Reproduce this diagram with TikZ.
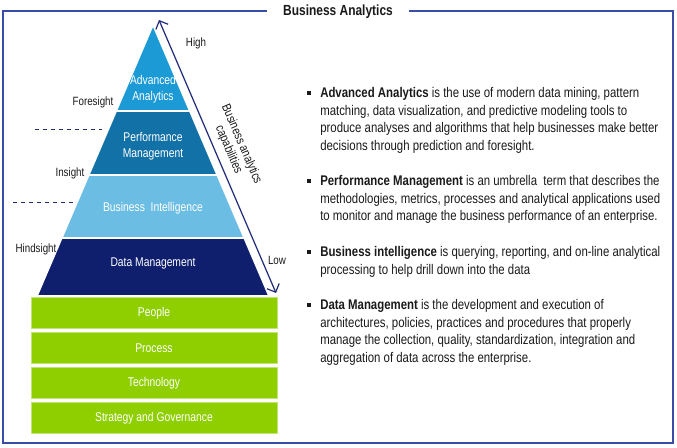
\documentclass[tikz,border=0pt]{standalone}
\usepackage{fontspec}
\newfontfamily\narrowfont[FakeStretch=0.815]{Liberation Sans}
\usepackage{xcolor}
\usetikzlibrary{arrows.meta,positioning,calc}
\definecolor{frameblue}{HTML}{3A4DA6}
\definecolor{aablue}{HTML}{1C9AD6}
\definecolor{pmblue}{HTML}{1271A6}
\definecolor{biblue}{HTML}{6CBDE4}
\definecolor{dmblue}{HTML}{0F1F6E}
\definecolor{basegreen}{HTML}{8FCF00}
\definecolor{arrownavy}{HTML}{1F2A78}
\definecolor{bodytext}{HTML}{1A1A1A}

\begin{document}
\begin{tikzpicture}[
    x=0.75pt, y=-0.75pt,
    every node/.style={font=\narrowfont, text=bodytext},
    layer/.style={draw=white, line width=1.2pt},
    layertext/.style={text=white, align=center, font=\narrowfont\fontsize{9.5}{12}\selectfont},
    basebar/.style={fill=basegreen, draw=basegreen!55!white, line width=0.6pt,
        minimum width=184.5pt, minimum height=23.25pt, inner sep=0pt,
        text=white, font=\narrowfont\fontsize{9.5}{12}\selectfont},
    sidelabel/.style={font=\narrowfont\fontsize{9}{11}\selectfont},
    level/.style={draw=arrownavy, dashed, line width=0.6pt},
    para/.style={anchor=north west, inner sep=0pt, align=left,
        font=\narrowfont\fontsize{10.5}{13.1}\selectfont},
    bullet/.style={fill=bodytext, minimum size=2.3pt, inner sep=0pt}
]
    \useasboundingbox (0,0) rectangle (677,448);

    % Frame and title
    \draw[frameblue, line width=1.1pt] (3,11) rectangle (673,443);
    \node[fill=white, inner xsep=12pt, inner ysep=2pt,
        font=\narrowfont\bfseries\fontsize{11}{13}\selectfont] (title) at (338,12) {Business Analytics};

    % Pyramid
    \coordinate (apex) at (153,25);
    \coordinate (aa-l) at (116.2,111); \coordinate (aa-r) at (189.8,111);
    \coordinate (pm-l) at (88.8,175);  \coordinate (pm-r) at (217.2,175);
    \coordinate (bi-l) at (61.8,238);  \coordinate (bi-r) at (244.2,238);
    \coordinate (dm-l) at (37,296);    \coordinate (dm-r) at (269,296);

    \filldraw[layer, fill=aablue] (apex) -- (aa-r) -- (aa-l) -- cycle;
    \filldraw[layer, fill=pmblue] (aa-l) -- (aa-r) -- (pm-r) -- (pm-l) -- cycle;
    \filldraw[layer, fill=biblue] (pm-l) -- (pm-r) -- (bi-r) -- (bi-l) -- cycle;
    \filldraw[layer, fill=dmblue] (bi-l) -- (bi-r) -- (dm-r) -- (dm-l) -- cycle;

    \node[layertext] (aa) at (153,89) {Advanced\\Analytics};
    \node[layertext] (pm) at (153,146) {Performance\\Management};
    \node[layertext] (bi) at (153,208) {Business\ \ Intelligence};
    \node[layertext] (dm) at (153,263) {Data Management};

    % Foundation bars
    \node[basebar] (people) at (154,313) {People};
    \node[basebar] (process) at (154,348) {Process};
    \node[basebar] (technology) at (154,383) {Technology};
    \node[basebar] (strategy) at (154,418) {Strategy and Governance};

    % Capability arrow
    \coordinate (high-end) at (159,20);
    \coordinate (low-end) at (276,293);
    \draw[arrownavy, line width=0.9pt, {Straight Barb[length=5pt]}-{Straight Barb[length=5pt]}] (high-end) -- (low-end);
    \node[sidelabel] (high) at (196,43) {High};
    \node[sidelabel] (low) at (277,260) {Low};
    \node[sidelabel, rotate=-66.8, align=center, font=\narrowfont\fontsize{9.5}{10.5}\selectfont] (caps) at (235,147) {Business analytics\\capabilities};

    % Sight levels
    \node[sidelabel] (foresight) at (93,102) {Foresight};
    \node[sidelabel] (insight) at (70,173) {Insight};
    \node[sidelabel] (hindsight) at (36,249) {Hindsight};
    \coordinate (dashA-l) at (35,129);  \coordinate (dashA-r) at (102,129);
    \coordinate (dashB-l) at (13,202);  \coordinate (dashB-r) at (77,202);
    \draw[level] (dashA-l) -- (dashA-r);
    \draw[level] (dashB-l) -- (dashB-r);

    % Descriptions
    \node[bullet] (b1) at (309,93) {};
    \node[para] (aatext) at (320,87.5) {\textbf{Advanced Analytics} is the use of modern data mining, pattern\\
        matching, data visualization, and predictive modeling tools to\\
        produce analyses and algorithms that help businesses make better\\
        decisions through prediction and foresight.};
    \node[bullet] (b2) at (309,181) {};
    \node[para] (pmtext) at (320,175.5) {\textbf{Performance Management} is an umbrella\ \ term that describes the\\
        methodologies, metrics, processes and analytical applications used\\
        to monitor and manage the business performance of an enterprise.};
    \node[bullet] (b3) at (309,252) {};
    \node[para] (bitext) at (320,246.5) {\textbf{Business intelligence} is querying, reporting, and on-line analytical\\
        processing to help drill down into the data};
    \node[bullet] (b4) at (309,305) {};
    \node[para] (dmtext) at (320,299.5) {\textbf{Data Management} is the development and execution of\\
        architectures, policies, practices and procedures that properly\\
        manage the collection, quality, standardization, integration and\\
        aggregation of data across the enterprise.};
\end{tikzpicture}
\end{document}
